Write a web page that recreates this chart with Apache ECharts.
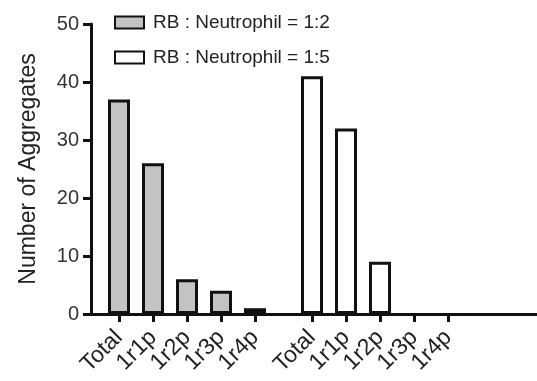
<!DOCTYPE html>
<html>
<head>
<meta charset="utf-8">
<script src="https://cdn.jsdelivr.net/npm/echarts@6/dist/echarts.min.js"></script>
<style>
  html, body { margin: 0; padding: 0; background: #fff; }
  #chart { width: 537px; height: 381px; }
</style>
</head>
<body>
<div id="chart"></div>
<script>
const groupLabels = ['Total', '1r1p', '1r2p', '1r3p', '1r4p']
const ratio12 = [37, 26, 6, 4, 1]
const ratio15 = [41, 32, 9, 0, 0]
const seriesNames = ['RB : Neutrophil = 1:2', 'RB : Neutrophil = 1:5']
const yTicks = [0, 50, 10]  // min, max, interval

const font = "'Liberation Sans', Arial, sans-serif"
const ink = '#111'

const chart = echarts.init(document.getElementById('chart'))

// zero-height bars are not drawn in the original figure
const asBars = (arr) => arr.map(v => (v === 0 ? '-' : v))

const gridTop = 24, gridBottom = 67
const hiddenY = (i) => ({
  type: 'value', gridIndex: i, min: yTicks[0], max: yTicks[1], interval: yTicks[2],
  show: false
})
const groupX = (i) => ({
  type: 'category', gridIndex: i, data: groupLabels,
  axisLine: { show: true, lineStyle: { color: ink, width: 3 } },
  axisTick: { show: true, interval: 0, alignWithLabel: true, length: 8, lineStyle: { color: ink, width: 3 } },
  axisLabel: { interval: 0, rotate: 45, margin: 20, fontSize: 23, color: '#222', fontFamily: font }
})

const option = {
  animation: false,
  backgroundColor: '#fff',
  legend: {
    left: 109, top: 8, orient: 'vertical', itemGap: 16, icon: 'rect',
    itemWidth: 29, itemHeight: 12,
    textStyle: { fontSize: 19, color: '#222', fontFamily: font, padding: [0, 0, 0, 4] },
    data: seriesNames
  },
  grid: [
    { left: 91, right: 0, top: gridTop, bottom: gridBottom },   // frame: y axis + baseline
    { left: 102, width: 170, top: gridTop, bottom: gridBottom },
    { left: 295, width: 170, top: gridTop, bottom: gridBottom }
  ],
  xAxis: [
    { type: 'value', gridIndex: 0, min: 0, max: 1,
      axisLine: { show: true, onZero: false, lineStyle: { color: ink, width: 3 } },
      axisTick: { show: false }, axisLabel: { show: false }, splitLine: { show: false } },
    groupX(1),
    groupX(2)
  ],
  yAxis: [
    { type: 'value', gridIndex: 0, min: yTicks[0], max: yTicks[1], interval: yTicks[2],
      name: 'Number of Aggregates', nameLocation: 'middle', nameGap: 51,
      nameTextStyle: { fontSize: 23, color: '#222', fontFamily: font },
      axisLine: { show: true, lineStyle: { color: ink, width: 3 } },
      axisTick: { show: true, length: 8, lineStyle: { color: ink, width: 3 } },
      axisLabel: { fontSize: 20, color: '#333', fontFamily: font, margin: 12 },
      splitLine: { show: false } },
    hiddenY(1),
    hiddenY(2)
  ],
  series: [
    { name: seriesNames[0], type: 'bar', xAxisIndex: 1, yAxisIndex: 1, data: asBars(ratio12),
      barWidth: 22,
      itemStyle: { color: '#c3c3c3', borderColor: ink, borderWidth: 3 } },
    { name: seriesNames[1], type: 'bar', xAxisIndex: 2, yAxisIndex: 2, data: asBars(ratio15),
      barWidth: 22,
      itemStyle: { color: '#ffffff', borderColor: ink, borderWidth: 3 } }
  ]
}

chart.setOption(option)
window.addEventListener('resize', () => chart.resize())
</script>
</body>
</html>
